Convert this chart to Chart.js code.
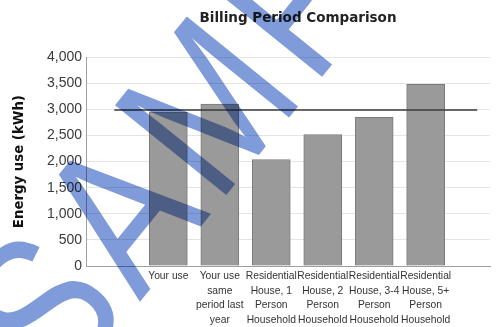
<!DOCTYPE html>
<html>
<head>
<meta charset="utf-8">
<script src="https://cdn.jsdelivr.net/npm/chart.js@4.4.1/dist/chart.umd.min.js"></script>
<style>
  html, body { margin: 0; padding: 0; background: #fff; }
  #wrap { width: 496px; height: 327px; }
</style>
</head>
<body>
<div id="wrap"><canvas id="billing"></canvas></div>
<script>
// categories (multi-line labels as shown under each bar)
const categories = [
    ['Your use'],
    ['Your use', 'same', 'period last', 'year'],
    ['Residential', 'House, 1', 'Person', 'Household'],
    ['Residential', 'House, 2', 'Person', 'Household'],
    ['Residential', 'House, 3-4', 'Person', 'Household'],
    ['Residential', 'House, 5+', 'Person', 'Household']
];
const usageKwh = [2950, 3100, 2040, 2520, 2850, 3480];
const referenceLine = 2990;           // dark horizontal line across the bars
const referenceSpan = [-1.05, 6.0];  // in category units
const yTicks = [0, 500, 1000, 1500, 2000, 2500, 3000, 3500, 4000];
const watermarkText = 'SAMPLE';

// big diagonal "SAMPLE" stamp over the whole chart
const watermark = {
    id: 'watermark',
    afterDraw(chart) {
        const ctx = chart.ctx;
        ctx.save();
        ctx.globalCompositeOperation = 'multiply';
        ctx.fillStyle = 'rgb(128,155,218)';
        ctx.translate(62, 398);
        ctx.rotate(-51 * Math.PI / 180);
        ctx.scale(0.82, 1);
        ctx.font = '208px "Liberation Sans"';
        ctx.letterSpacing = '12px';
        ctx.fillText(watermarkText, 0, 0);
        ctx.restore();
    }
};

// nudge the title a little to the right, like the original
const titleShift = {
    id: 'titleShift',
    afterLayout(chart) {
        if (chart.titleBlock) {
            chart.titleBlock.left += 10;
            chart.titleBlock.right += 10;
        }
    }
};

const ctx = document.getElementById('billing').getContext('2d');
new Chart(ctx, {
    data: {
        datasets: [{
            type: 'line',
            data: referenceSpan.map(x => ({ x: x, y: referenceLine })),
            borderColor: '#3a3a3a',
            borderWidth: 1.5,
            pointRadius: 0,
            order: 0
        }, {
            type: 'bar',
            data: usageKwh.map((v, i) => ({ x: i, y: v })),
            backgroundColor: '#9a9a9a',
            borderColor: '#7a7a7a',
            borderWidth: 1,
            barThickness: 38,
            order: 1
        }]
    },
    options: {
        responsive: true,
        maintainAspectRatio: false,
        animation: false,
        layout: { padding: { left: 0, right: 6, top: 0, bottom: 0 } },
        plugins: {
            legend: { display: false },
            tooltip: { enabled: false },
            title: {
                display: true,
                text: 'Billing Period Comparison',
                fullSize: false,
                color: '#222',
                font: { family: 'DejaVu Sans', size: 13.5, weight: 'bold' },
                padding: { top: 10, bottom: 31 }
            }
        },
        scales: {
            x: {
                type: 'linear',
                offset: false,
                min: -1.6,
                max: 6.25,
                grid: { display: false, drawTicks: false },
                border: { color: '#a0a0a0' },
                afterBuildTicks: s => { s.ticks = categories.map((c, i) => ({ value: i })); },
                afterFit: s => { s.height = 61; },
                ticks: {
                    autoSkip: false,
                    maxRotation: 0,
                    padding: 3,
                    color: '#333',
                    font: { family: 'Liberation Sans', size: 10.3, lineHeight: 1.42 },
                    callback: v => categories[v] || ''
                }
            },
            y: {
                min: 0,
                max: 4000,
                afterBuildTicks: s => { s.ticks = yTicks.map(v => ({ value: v })); },
                afterFit: s => { s.width = 86; },
                grid: { color: '#e4e4e4', drawTicks: false },
                border: { color: '#a0a0a0' },
                ticks: {
                    padding: 4,
                    color: '#3a3a3a',
                    font: { family: 'Liberation Sans', size: 14 }
                },
                title: {
                    display: true,
                    text: 'Energy use (kWh)',
                    color: '#111',
                    font: { family: 'DejaVu Sans', size: 13.3, weight: 'bold' },
                    padding: { top: 12, bottom: 0 }
                }
            }
        }
    },
    plugins: [watermark, titleShift]
});
</script>
</body>
</html>
